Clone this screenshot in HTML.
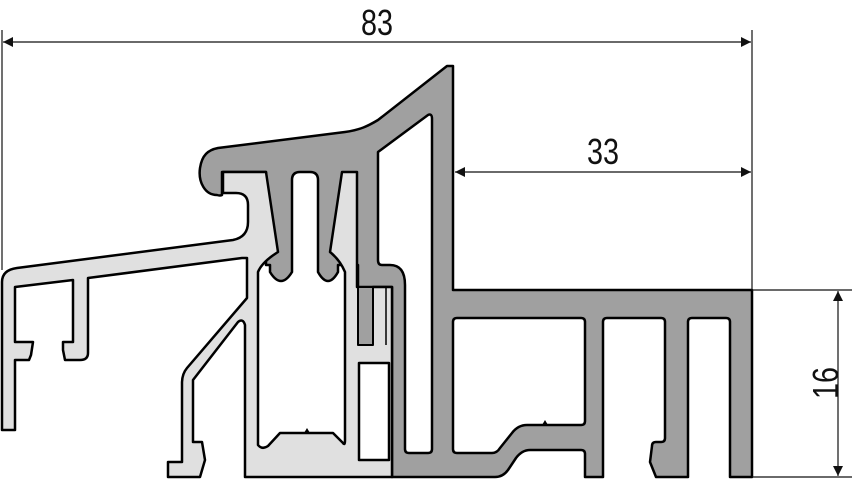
<!DOCTYPE html>
<html><head><meta charset="utf-8"><style>html,body{margin:0;padding:0;background:#fff}svg{display:block}</style></head>
<body>
<svg width="852" height="480" viewBox="0 0 852 480" xmlns="http://www.w3.org/2000/svg">
<defs>
<marker id="a" viewBox="0 0 10 10" refX="10" refY="5" markerWidth="20" markerHeight="10" markerUnits="userSpaceOnUse" orient="auto-start-reverse"><path d="M0,0 L10,5 L0,10 Z" fill="#111"/></marker>
</defs>
<g stroke="#000" stroke-width="2.5" stroke-linejoin="round">
<path fill="#a0a0a0" fill-rule="evenodd" d="M217,195 C205,195 198,182 200,168 C202,155 208,150 218,148 L345,132 C360,130 368,126 378,120 L447,66 L453,66 L453,290 L752,290 L752,477 L730,477 L730,322 Q730,318 726,318 L692,318 Q688,318 688,322 L688,477 L656,477 L650,462 L652,446 Q652,442 656,442 L661,442 Q665,442 665,438 L665,322 Q665,318 661,318 L607,318 Q603,318 603,322 L603,477 L585,477 L585,454 Q585,450 581,450 L530,450 Q522,450 516,458 L508,470 Q503,477 495,477 L392,477 L392,287 L373,287 L373,345 L358,345 L358,265 L338,265 L338,272 Q328,290 318,272 L318,180 Q318,172 310,172 L300,172 Q292,172 292,180 L292,272 Q281,290 270,272 L270,265 L266,265 L266,172 L222,172 L222,195 Q220,196 217,195 Z
M378,152 L428,115 Q432,113 432,119 L432,449 Q432,453 428,453 L409,453 Q405,453 405,449 L405,285 Q405,265 390,265 L382,265 Q378,265 378,260 Z
M457,318 L581,318 Q585,318 585,322 L585,421 Q585,425 581,425 L527,425 Q518,425 512,433 L500,448 Q497,453 492,453 L457,453 Q453,453 453,449 L453,322 Q453,318 457,318 Z"/>
<path fill="#e0e0e0" fill-rule="evenodd" d="M2,430 L2,282 Q2,270 17,268 L233,240 Q248,237 248,222 L248,205 Q248,193 236,193 L223,193 L223,172 L266,172 L278,252 Q262,262 258,272 L258,445 Q262,450 268,446 L280,433 L333,433 L343,443 Q345,446 345,440 L345,272 Q340,260 330,252 L342,172 L357,172 L357,287 L392,287 L392,477 L245,477 L245,325 Q243,318 238,322 L193,380 L193,442 L202,442 L205,460 L200,477 L168,477 L168,462 L182,462 L182,383 Q182,374 187,368 L247,298 L247,258 L242,258 L88,278 L88,353 Q88,360 80,360 L65,360 L63,350 L63,342 L73,342 L73,280 L15,287 L15,342 L33,342 L31,355 L29,360 L15,360 L15,430 Z
M359,363 L389,363 L389,460 L359,460 Z"/>
<rect x="358" y="287" width="15" height="58" fill="#a0a0a0" stroke-width="2"/>
<line x1="386" y1="288" x2="386" y2="345" stroke-width="1.5"/>
</g>
<path d="M304,433 L307,428 L310,433 Z M542,425 L545,420 L548,425 Z" fill="#000"/>
<g stroke="#111" stroke-width="1.2" fill="none">
<line x1="2" y1="30" x2="2" y2="270"/>
<line x1="752" y1="30" x2="752" y2="290"/>
<line x1="3" y1="42" x2="751" y2="42" marker-start="url(#a)" marker-end="url(#a)"/>
<line x1="455" y1="172" x2="751" y2="172" marker-start="url(#a)" marker-end="url(#a)"/>
<line x1="752" y1="290" x2="852" y2="290"/>
<line x1="752" y1="477" x2="852" y2="477"/>
<line x1="838" y1="291" x2="838" y2="476" marker-start="url(#a)" marker-end="url(#a)"/>
</g>
<g font-family="Liberation Sans, sans-serif" font-size="36" fill="#111">
<text x="377" y="35" text-anchor="middle" textLength="32" lengthAdjust="spacingAndGlyphs">83</text>
<text x="603" y="164" text-anchor="middle" textLength="32" lengthAdjust="spacingAndGlyphs">33</text>
<text transform="translate(838,383) rotate(-90)" text-anchor="middle" textLength="32" lengthAdjust="spacingAndGlyphs">16</text>
</g>
</svg>
</body></html>
